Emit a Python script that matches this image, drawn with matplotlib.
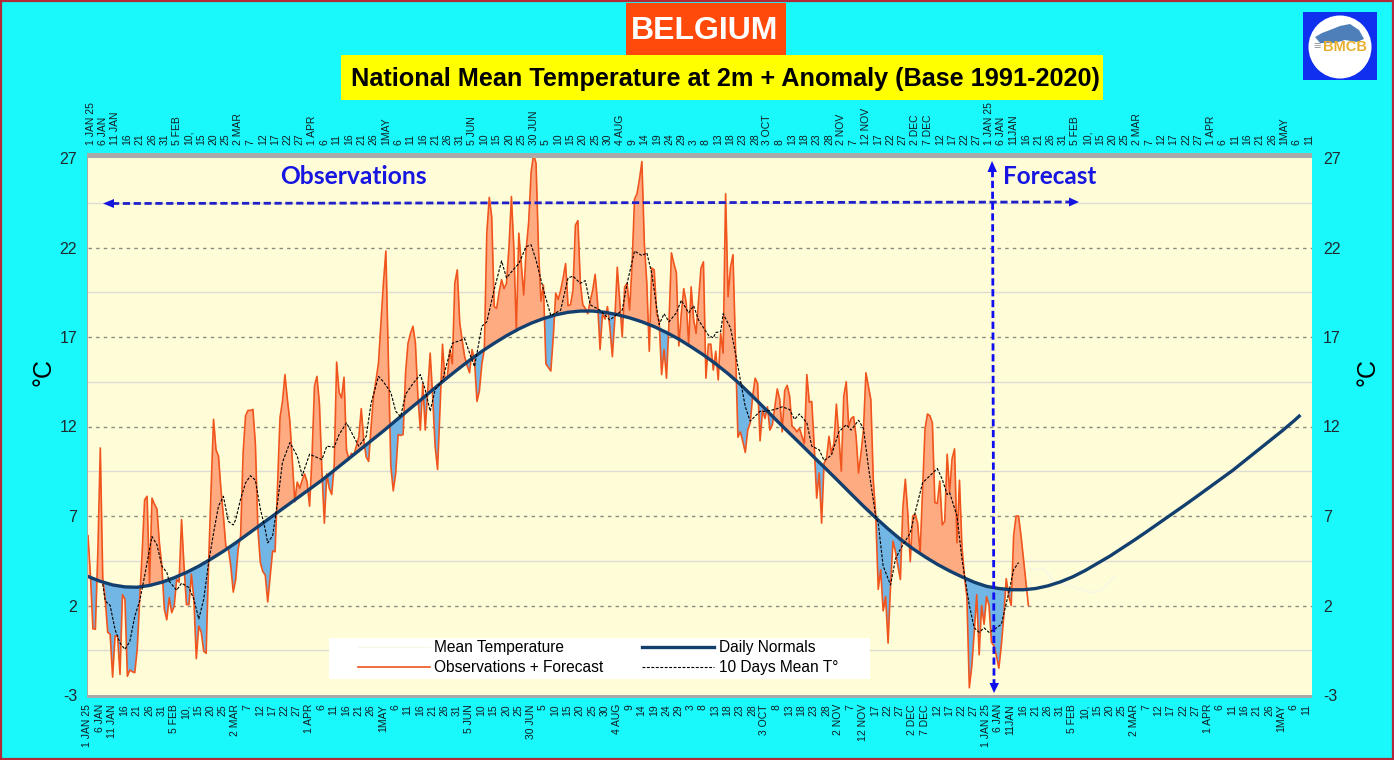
import numpy as np
import matplotlib
matplotlib.use("Agg")
import matplotlib.pyplot as plt
from matplotlib.lines import Line2D
from matplotlib.patches import Polygon, Rectangle, Circle
from matplotlib.transforms import ScaledTranslation

plt.rcParams["font.family"] = ["Liberation Sans", "DejaVu Sans"]
plt.rcParams["axes.unicode_minus"] = False

# daily temperatures, 1 Jan 25 onwards (observations + forecast)
obs_temps = [
    5.9, 3.65, 0.7, 0.67, 5, 10.8, 3.5, 2.35, 0.5, 0.4,
    -2.0, 0.3, 0.3, -1.85, 2.6, 2.35, -1.95, -1.6, -1.7, -1.75,
    -0.45, 2.35, 4.95, 7.9, 8.1, 3.2, 8, 7.65, 7.4, 5.5,
    4.2, 1.8, 1.2, 2.45, 1.6, 1.95, 3.45, 3.3, 6.8, 4.2,
    2.05, 2.05, 3.75, 2.35, -0.97, 0.85, 0.5, -0.55, -0.67, 4.4,
    8.5, 12.4, 10.7, 10.35, 8.5, 7, 5.3, 5.2, 4.2, 2.75,
    3.45, 5.15, 5.9, 10.5, 12.6, 12.9, 12.9, 12.95, 11, 6.3,
    4.4, 3.9, 3.7, 2.2, 3.65, 5.05, 5, 8.7, 12.5, 13.4,
    14.9, 13.5, 12.3, 10.1, 7.8, 8.9, 8.55, 9, 9.35, 8.9,
    7.55, 10.3, 14.25, 14.8, 13.3, 9.6, 6.6, 9.35, 8.55, 8.2,
    9.8, 15.6, 13.9, 13.6, 14.75, 10.7, 10.15, 10.5, 10.4, 10.9,
    11.4, 13, 11.25, 10.3, 10.05, 12, 13.7, 14.6, 15.55, 17.8,
    20, 21.8, 15.9, 9.8, 8.4, 9.4, 11.55, 11.5, 11.55, 15,
    16.65, 17.2, 17.6, 16.65, 13.7, 11.8, 14.4, 11.8, 14, 16.1,
    13.7, 10.9, 9.6, 13, 16.6, 14.6, 14.8, 16.3, 15.5, 20,
    20.75, 17.8, 16.8, 15.9, 15.4, 15, 16.3, 15.7, 13.4, 14,
    15.5, 16.3, 22.8, 24.8, 23.7, 18.7, 18.6, 19.5, 20.2, 19.7,
    20, 22, 24.85, 21.9, 17.3, 22.8, 21.1, 19.35, 21.9, 23.4,
    26.2, 27.2, 26.7, 21.9, 19, 19.9, 15.5, 15.3, 15.1, 17,
    19.45, 19.1, 19.6, 20.3, 21.1, 18.75, 18.8, 19.6, 23.25, 23.5,
    20, 18.8, 18.6, 18.3, 19, 19.6, 20.5, 18.9, 16.3, 18.3,
    18, 18.7, 17.5, 15.9, 18, 20.9, 19, 17, 19.8, 20,
    18.5, 21, 24.7, 25, 25.8, 26.8, 22.2, 20, 16.2, 20.85,
    20.75, 18.3, 17.9, 14.9, 16.3, 14.7, 17.8, 21.7, 21.1, 20.6,
    16.5, 18.3, 19.7, 18.9, 16.6, 19.8, 18, 17.2, 19, 20.85,
    21.2, 14.7, 16.6, 16.6, 15.15, 16.2, 14.6, 17.2, 16.1, 25,
    19.25, 20.9, 21.6, 16.5, 11.4, 11.7, 11.15, 10.55, 11.8, 12.2,
    13.7, 14.7, 14.4, 11.2, 12.9, 12.45, 13.1, 11.8, 12.1, 13.1,
    14.1, 13.5, 11.7, 14, 14.3, 13.7, 12, 11.9, 11.7, 11.9,
    11.45, 11.05, 14.9, 13.35, 13.4, 10.9, 8, 9.4, 6.6, 9.95,
    10.2, 11.45, 10.5, 11.05, 13.25, 11.45, 9.5, 13.7, 14.5, 12,
    12.45, 12.55, 11.45, 9.4, 10.5, 11.8, 15, 14.25, 13.5, 9,
    7, 2.9, 4, 1.7, 2.5, -0.1, 3.1, 5.6, 5, 4.2,
    3.45, 7.45, 9.05, 7.2, 4.45, 7, 7.1, 6.6, 4.9, 8.3,
    11.85, 12.7, 12.6, 12.2, 7.75, 7.7, 8.95, 6.5, 6.7, 10.45,
    8.3, 10.2, 10.75, 5.5, 9, 5.3, 3.65, 2.5, -2.6, -1.4,
    0.5, 2.6, -0.75, 2, 0.95, 2.5, 2, -0.05, -0.25, -0.8,
    -1.5, -0.25, 1.4, 3.5, 2.55, 2, 5.9, 7, 7, 5.9,
    4.6, 3.3, 2,
]

# daily normals, read every 5 days
normal_days = list(range(0, 495, 5)) + [492]
normal_days = sorted(d for d in normal_days if d <= 490) + [492]
normal_temps = [
    3.62, 3.35, 3.15, 3.04, 3.02, 3.12, 3.3, 3.55, 3.85, 4.2, 4.6, 5.03, 5.5, 6, 6.5, 7, 7.5, 8, 8.5, 9,
    9.55, 10.1, 10.65, 11.2, 11.75, 12.33, 12.9, 13.47, 14.05, 14.62, 15.17, 15.7, 16.2, 16.65, 17.07, 17.45,
    17.77, 18.03, 18.24, 18.38, 18.45, 18.45, 18.38, 18.25, 18.07, 17.85, 17.58, 17.25, 16.88, 16.45, 16, 15.5,
    14.95, 14.35, 13.68, 13, 12.3, 11.62, 10.95, 10.27, 9.6, 8.92, 8.23, 7.55, 6.9, 6.28, 5.7, 5.18,
    4.72, 4.3, 3.93, 3.6, 3.3, 3.07, 2.95, 2.88, 2.88, 2.95, 3.1, 3.32, 3.6, 3.95, 4.35, 4.75,
    5.2, 5.65, 6.12, 6.6, 7.08, 7.56, 8.05, 8.55, 9.05, 9.55, 10.1, 10.65, 11.2, 11.75, 12.33, 12.58,
]

# 10 days mean
mean_days = [
    6, 7, 9, 11, 13, 15, 17, 19, 21, 23, 25, 26, 28, 30, 32, 33, 36, 38, 41, 43, 45, 47, 49, 51, 53, 55, 57, 59,
    60, 62, 64, 66, 68, 70, 72, 73, 75, 77, 79, 82, 85, 87, 90, 95, 97, 100, 102, 105, 110, 113, 115, 118, 120,
    123, 125, 127, 129, 132, 135, 137, 139, 141, 144, 148, 153, 155, 157, 160, 162, 165, 168, 170, 173, 175,
    178, 180, 182, 185, 188, 192, 195, 197, 200, 202, 204, 208, 212, 217, 219, 222, 225, 227, 229, 232, 234,
    236, 239, 241, 244, 246, 248, 252, 254, 255, 257, 258, 261, 263, 265, 267, 269, 273, 275, 279, 282, 285,
    287, 289, 292, 294, 297, 299, 302, 305, 308, 310, 313, 315, 317, 320, 321, 323, 326, 328, 330, 334, 336,
    339, 342, 345, 347, 349, 350, 353, 355, 358, 360, 362, 364, 366, 368, 371, 374, 376, 378,
]
mean_temps = [
    3.2, 2.25, 2, 0.65, -0.1, -0.45, 0, 1.4, 2.25, 3.65, 5.15, 5.85, 5.4, 4.2, 3.85, 3.35, 2.85, 3.25, 3, 2.35, 1.25, 2.35, 4.4, 6.05, 7.55, 8.1, 6.7, 6.5,
    6.8, 7.95, 8.85, 9.25, 9, 7.4, 6.25, 5.5, 5.9, 7.75, 10, 11.1, 10.35, 9.25, 10.45, 10.15, 10.9, 10.85, 11.55, 12.2, 10.9, 11.45, 13.3, 14.8, 14.5,
    13.9, 12.85, 12.55, 13.8, 14.4, 14.9, 14.05, 12.85, 14.05, 14.6, 16.65, 16.9, 16.1, 15.35, 17.6, 17.85, 19.65, 21.25, 20.3, 20.8, 21.1,
    22.05, 22.15, 21.3, 19.65, 18.2, 18.5, 20.3, 20.4, 20, 20.15, 18.8, 18.5, 17.95, 18.5, 20, 21.8, 21.55, 21.7, 20.55, 17.7, 18.3,
    17.85, 18.35, 19.05, 18.35, 18.75, 17.95, 17.1, 16.95, 17.25, 17.3, 18.3, 17.5, 16.1, 14.6, 13.1, 12.3, 12.85, 12.85, 12.95, 13.1, 12.95,
    12.4, 12.7, 12.2, 10.9, 10.7, 10.1, 10.4, 11.7, 12.1, 11.8, 12.35, 11.9, 9.75, 6.95, 6.6, 4.2, 3.15, 4.6, 5.15, 6.05, 7.2,
    8.85, 9.25, 9.65, 9.05, 8.2, 8.3, 7, 4.6, 2, 0.75, 0.5, 0.75, 0.5, 0.65, 0.95, 2.7, 4, 4.4,
]

# the near-white "mean temperature" trace, only faintly visible
white_days = [384, 388, 392, 401, 408, 412, 417]
white_temps = [4.0, 4.1, 3.4, 3.0, 2.7, 2.9, 3.6]

tick_labels = [
    "1 JAN 25", "6 JAN", "11 JAN", "16", "21", "26", "31", "5 FEB", "10,", "15", "20", "25",
    "2 MAR", "7", "12", "17", "22", "27", "1 APR", "6", "11", "16", "21", "26", "1MAY", "6",
    "11", "16", "21", "26", "31", "5 JUN", "10", "15", "20", "25", "30 JUN", "5", "10", "15",
    "20", "25", "30", "4 AUG", "9", "14", "19", "24", "29", "3", "8", "13", "18", "23", "28",
    "3 OCT", "8", "13", "18", "23", "28", "2 NOV", "7", "12 NOV", "17", "22", "27", "2 DEC",
    "7 DEC", "12", "17", "22", "27", "1 JAN 25", "6 JAN", "11JAN", "16", "21", "26", "31",
    "5 FEB", "10,", "15", "20", "25", "2 MAR", "7", "12", "17", "22", "27", "1 APR", "6",
    "11", "16", "21", "26", "1MAY", "6", "11",
]
y_ticks = [-3, 2, 7, 12, 17, 22, 27]
y_minor = [-0.5, 4.5, 9.5, 14.5, 19.5, 24.5]

W, H = 1394, 760
CYAN = "#19F9FB"
BLUE = "#1616E0"
LABEL = "#101c20"


def fx(x):
    return x / W


def fy(y):
    return 1 - y / H


fig = plt.figure(figsize=(W / 100, H / 100), dpi=100, facecolor=CYAN)
fig.add_artist(Rectangle((0.0006, 0.001), 0.9988, 0.998, transform=fig.transFigure,
                         fc="none", ec="#b02a3a", lw=1.6))

# grey shadow band round the plot area
fig.add_artist(Rectangle((fx(87), fy(698)), 1225 / W, 545 / H, transform=fig.transFigure,
                         fc="#a9a9a9", ec="none", zorder=-1))

ax = fig.add_axes([fx(88), fy(695), 1224 / W, 537 / H], facecolor="#FFFDD8")
for s in ax.spines.values():
    s.set_visible(False)

days = np.arange(len(obs_temps))
normal_verts = list(zip(normal_days, normal_temps))

for y in y_minor:
    ax.axhline(y, color="#dcdcd2", lw=1, zorder=1)
for y in y_ticks[1:-1]:
    ax.axhline(y, color="#8c8b7c", lw=1, dashes=(2.5, 3), zorder=1)

# anomaly fill: clip the area under/over the observations to the normals curve
above = Polygon(normal_verts + [(492, 40), (0, 40)], transform=ax.transData)
below = Polygon(normal_verts + [(492, -10), (0, -10)], transform=ax.transData)
warm = ax.fill_between(days, obs_temps, -10, color="#FFAB82", lw=0, zorder=2)
warm.set_clip_path(above)
cold = ax.fill_between(days[:382], obs_temps[:382], 40, color="#72B6E6", lw=0, zorder=2)
cold.set_clip_path(below)

ax.plot(white_days, white_temps, color="#f8f6e6", lw=1, zorder=2.5, label="Mean Temperature")
ax.plot(days, obs_temps, color="#F0551E", lw=1.2, zorder=3, label="Observations + Forecast")
ax.plot(normal_days, normal_temps, color="#123F6E", lw=2.4, zorder=4, label="Daily Normals")
ax.plot(mean_days, mean_temps, color="black", lw=0.8, dashes=(2.6, 1.4), zorder=5, label="10 Days Mean T°")

ax.set_xlim(0, 497.2)
ax.set_ylim(-3, 27)
ax.set_yticks(y_ticks)
ax.set_xticks(np.arange(len(tick_labels)) * 5)
ax.set_xticklabels(tick_labels, rotation=90, fontsize=7.5, color=LABEL)
ax.tick_params(axis="x", length=0, pad=6.5, top=True, labeltop=True, bottom=True, labelbottom=True)
ax.tick_params(axis="y", length=0, pad=7.9, right=True, labelright=True, labelsize=11.5, labelcolor="#1c2a30")
shift_low = ScaledTranslation(-0.5 / 100, 0, fig.dpi_scale_trans)
shift_top = ScaledTranslation(2.5 / 100, 4 / 100, fig.dpi_scale_trans)
for t in ax.xaxis.get_major_ticks():
    t.label1.set_transform(t.label1.get_transform() + shift_low)
    t.label2.set_transform(t.label2.get_transform() + shift_top)
    t.label2.set_rotation(90)
    t.label2.set_fontsize(7.5)
    t.label2.set_color(LABEL)

# white box behind the legend, wider than the legend itself
ax.add_patch(Rectangle((fx(329), fy(679)), 541 / W, 41 / H, transform=fig.transFigure,
                       fc="white", ec="none", zorder=5.5, clip_on=False))
leg = ax.legend(ncols=2, loc="upper left", bbox_to_anchor=(fx(358), fy(640)),
                bbox_transform=fig.transFigure, fontsize=11.2, frameon=False, handlelength=4.6,
                handletextpad=0.3, columnspacing=2.5, labelspacing=0.35, borderpad=0,
                borderaxespad=0)
leg.set_zorder(6)

# titles
fig.add_artist(Rectangle((fx(626), fy(55)), 160 / W, 52 / H, transform=fig.transFigure, fc="#FF4A0C", ec="none", zorder=2))
fig.add_artist(Rectangle((fx(341), fy(100)), 762 / W, 45 / H, transform=fig.transFigure, fc="#FFFF00", ec="none", zorder=2))
fig.text(fx(705), fy(31), "BELGIUM", color="white", fontsize=23, fontweight="bold", ha="center", va="center", zorder=3)
fig.text(fx(725.5), fy(79), "National Mean Temperature at 2m + Anomaly (Base 1991-2020)", color="black",
         fontsize=18.15, fontweight="bold", ha="center", va="center", zorder=3)

fig.text(fx(44), fy(372), "°C", rotation=90, fontsize=18, ha="center", va="center", color="black")
fig.text(fx(1368), fy(372), "°C", rotation=90, fontsize=18, ha="center", va="center", color="black")

fig.text(fx(353), fy(177), "Observations", family=["Lato", "DejaVu Sans"], fontweight="bold", fontsize=17.7,
         color=BLUE, ha="center", va="center", zorder=8)
fig.text(fx(1050), fy(177), "Forecast", family=["Lato", "DejaVu Sans"], fontweight="bold", fontsize=17.5,
         color=BLUE, ha="center", va="center", zorder=8)


# dashed arrows
def arrow_head(tip, base_l, base_r, color):
    pts = [(fx(p[0]), fy(p[1])) for p in (tip, base_l, base_r)]
    fig.add_artist(Polygon(pts, closed=True, transform=fig.transFigure, fc=color, ec="none", zorder=8))


fig.add_artist(Line2D([fx(112), fx(1072)], [fy(203.5), fy(202)], color="#2020C8", lw=2, dashes=(2.6, 1.3), zorder=8))
arrow_head((103, 203.5), (114, 199), (114, 208), "#1515E0")
arrow_head((1079, 202), (1069, 197.5), (1069, 206.5), "#1515E0")
fig.add_artist(Line2D([fx(992.5), fx(994)], [fy(170), fy(684)], color="#0F0FF0", lw=2, dashes=(2.6, 1.3), zorder=8))
arrow_head((992, 161), (987.5, 172), (997, 172), "#0F0FF0")
arrow_head((994, 693), (989.5, 683), (999, 683), "#0F0FF0")

# BMCB logo
fig.add_artist(Rectangle((fx(1303), fy(80)), 74 / W, 68 / H, transform=fig.transFigure, fc="#1030F0", ec="none", zorder=8))
logo = fig.add_axes([fx(1303), fy(80), 74 / W, 68 / H], zorder=9)
logo.set_xlim(1303, 1377)
logo.set_ylim(80, 12)
logo.axis("off")
logo.add_patch(Circle((1340, 47), 31.5, fc="white", ec="none"))
logo.add_patch(Polygon([(1315, 37), (1322, 33), (1330, 30), (1340, 26), (1350, 24), (1359, 30), (1364, 39),
                        (1357, 42), (1345, 40), (1335, 43), (1320, 43)], closed=True, fc="#4f7fb8", ec="none"))
logo.text(1345, 47, "BMCB", color="#E8B030", fontsize=10.5, fontweight="bold", ha="center", va="center")
logo.text(1317, 47, "≡", color="#9a9a9a", fontsize=9, ha="center", va="center")

fig.savefig("out.png", dpi=100, facecolor=fig.get_facecolor())
